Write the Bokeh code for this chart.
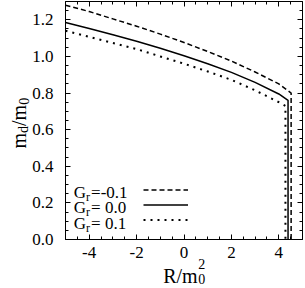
import math
from bokeh.plotting import figure
from bokeh.models import (Range1d, LinearAxis, FixedTicker, PrintfTickFormatter,
                          Label, Legend, LegendItem)
from bokeh.core.properties import value
from bokeh.embed import file_html
from bokeh.resources import INLINE

# ---- data ----
r_grid = [-5, -4, -3, -2, -1, 0, 1, 2, 3, 4]
m_neg = [1.28, 1.245, 1.205, 1.165, 1.122, 1.076, 1.027, 0.975, 0.915, 0.85]     # Gr = -0.1
m_zero = [1.185, 1.152, 1.118, 1.083, 1.045, 1.004, 0.96, 0.913, 0.858, 0.795]   # Gr = 0.0
m_pos = [1.14, 1.107, 1.073, 1.04, 1.0, 0.96, 0.918, 0.872, 0.815, 0.75]         # Gr = 0.1
r_end = [4.52, 4.39, 4.28]
m_end = [0.80, 0.76, 0.73]
m_floor = 0.0
gr_labels = ["=-0.1", "= 0.0", "= 0.1"]
x_lim = (-5, 5)
y_lim = (0, 1.3)
x_major = [-4, -2, 0, 2, 4]
x_minor = [-5, -4.5, -4, -3.5, -3, -2.5, -2, -1.5, -1, -0.5, 0, 0.5, 1, 1.5, 2, 2.5, 3, 3.5, 4, 4.5, 5]
y_major = [0.0, 0.2, 0.4, 0.6, 0.8, 1.0, 1.2]
y_minor = [0.05 * i for i in range(27)]

FONT = "Liberation Serif"

# ---- layout (pixels) ----
W, H = 305, 288
BOX_L, BOX_R, BOX_T, BOX_B = 65, 302, 1, 239
xpx = (BOX_R - BOX_L) / (x_lim[1] - x_lim[0])
ypx = (BOX_B - BOX_T) / (y_lim[1] - y_lim[0])
x_rng = Range1d(x_lim[0] - BOX_L / xpx, x_lim[1] + (W - BOX_R) / xpx)
y_rng = Range1d(y_lim[0] - (H - BOX_B) / ypx, y_lim[1] + BOX_T / ypx)

p = figure(width=W, height=H, output_backend="svg", toolbar_location=None,
           x_range=x_rng, y_range=y_rng,
           x_axis_location=None, y_axis_location=None,
           min_border=0, min_border_left=0, min_border_right=0,
           min_border_top=0, min_border_bottom=0)
p.grid.visible = False
p.outline_line_color = None
p.background_fill_color = "white"
p.border_fill_color = "white"


def make_axis(kind, loc, show_labels):
    if kind == "x":
        ticker = FixedTicker(ticks=x_major, minor_ticks=x_minor)
        fmt = PrintfTickFormatter(format="%d")
        bounds = x_lim
    else:
        ticker = FixedTicker(ticks=y_major, minor_ticks=y_minor)
        fmt = PrintfTickFormatter(format="%.1f")
        bounds = y_lim
    ax = LinearAxis(ticker=ticker, formatter=fmt, fixed_location=loc, bounds=bounds)
    ax.axis_line_color = "black"
    ax.axis_line_width = 1
    ax.major_tick_in = 5
    ax.major_tick_out = 0
    ax.minor_tick_in = 3
    ax.minor_tick_out = 0
    ax.major_tick_line_color = "black"
    ax.minor_tick_line_color = "black"
    ax.major_label_text_font = FONT
    ax.major_label_text_font_size = "17px"
    if show_labels:
        ax.major_label_text_color = "black"
        ax.major_label_standoff = 7 if kind == "x" else 12
    else:
        ax.major_label_text_color = None
    return ax


p.add_layout(make_axis("x", y_lim[0], True), "below")
p.add_layout(make_axis("x", y_lim[1], False), "above")
p.add_layout(make_axis("y", x_lim[0], True), "left")
p.add_layout(make_axis("y", x_lim[1], False), "right")

series = [m_neg, m_zero, m_pos]
styles = [dict(line_width=1.5, line_dash="5 3"),
          dict(line_width=1.5, line_dash="solid"),
          dict(line_width=2, line_dash="2 5", line_cap="butt")]
renderers = []
for vals, xe, ye, st in zip(series, r_end, m_end, styles):
    xs = list(r_grid) + [xe, xe]
    ys = list(vals) + [ye, m_floor]
    r = p.line(xs, ys, line_color="black", **st)
    renderers.append(r)

ROW = 15
legend = Legend(items=[LegendItem(label=value(" "), renderers=[r]) for r in renderers],
                location=(143, H - (189.5 + 2 * ROW + ROW / 2)),
                glyph_width=45, glyph_height=ROW, label_height=ROW,
                spacing=0, padding=0, margin=0, label_standoff=0,
                label_text_font_size="1px", border_line_alpha=0, background_fill_alpha=0)
p.add_layout(legend)


def lab(cx, cy, text, size, angle=0.0):
    """cx, cy: canvas pixels from the top-left corner."""
    p.add_layout(Label(x=cx, y=H - cy, x_units="screen", y_units="screen", text=text,
                       text_font=FONT, text_font_size=f"{size}px", text_color="black",
                       text_baseline="alphabetic", text_align="left", angle=angle))


ADV = {"m": 0.778, "d": 0.5, "/": 0.278, "0": 0.5, "R": 0.667, "G": 0.722, "r": 0.333}


def width(text, size):
    return sum(ADV.get(c, 0.5) for c in text) * size


# legend texts
LF, LS = 17, 12
for i, t in enumerate(gr_labels):
    yb = 191.5 + 15.5 * i
    gx = 73.3
    lab(gx, yb, "G", LF)
    lab(gx + width("G", LF), yb + 4.5, "r", LS)
    lab(gx + width("G", LF) + 5, yb, t, LF)

# y axis label: m_d / m_0 (rotated, reading upward)
BIG, SUB = 20, 14
bx, by = 18, 148
pos = by
for txt, sz, sub in [("m", BIG, False), ("d", SUB, True), ("/m", BIG, False), ("0", SUB, True)]:
    lab(bx + (5 if sub else 0), pos, txt, sz, angle=math.pi / 2)
    pos -= width(txt, sz)

# x axis label: R / m_0^2
xx, xy = 162.7, 275
lab(xx, xy, "R/m", BIG)
w = width("R/m", BIG)
lab(xx + w + 0.5, xy + 3.5, "0", SUB)
lab(xx + w + 0.5, xy - 12, "2", SUB)

open("out.html", "w").write(file_html(p, INLINE))
